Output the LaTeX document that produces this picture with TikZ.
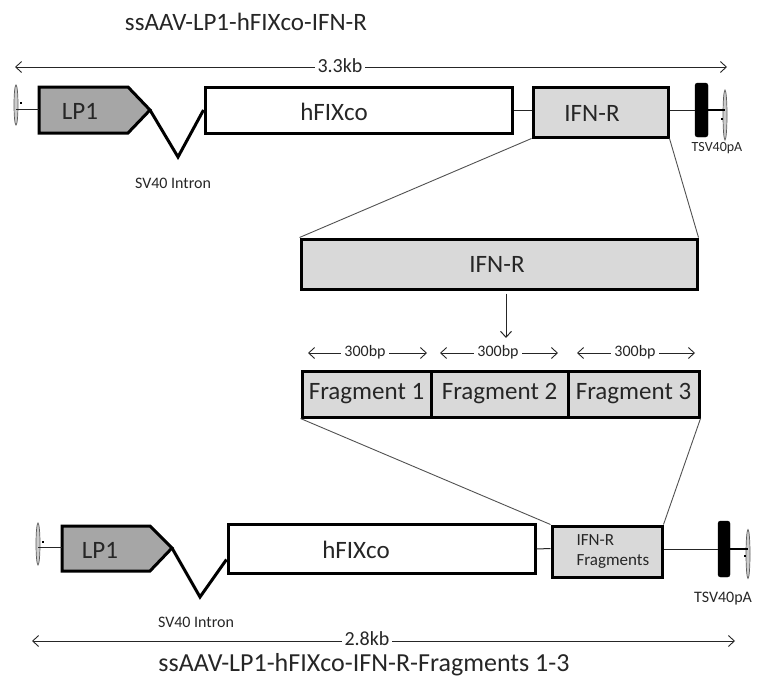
\documentclass[tikz,border=0pt]{standalone}
\usepackage{fontspec}
\setmainfont{Carlito}
\usetikzlibrary{arrows.meta,shapes.geometric}
\definecolor{promoter}{HTML}{A6A6A6}
\definecolor{insert}{HTML}{D9D9D9}
\definecolor{ink}{HTML}{262626}
\begin{document}
\begin{tikzpicture}[x=1pt,y=-1pt,
  every node/.style={text=ink},
  box/.style={draw=black, line width=3pt, inner sep=0pt},
  whitebox/.style={box, fill=white},
  greybox/.style={box, fill=insert},
  promo/.style={draw=black, line width=3pt, fill=promoter, line join=miter},
  intron/.style={draw=black, line width=3pt, line join=miter},
  link/.style={draw=ink, line width=1pt},
  zoomline/.style={draw=ink!80, line width=0.9pt},
  polya/.style={draw=black, fill=black, rounded corners=2.5pt, inner sep=0pt},
  itr/.style={ellipse, draw=ink!75, fill=gray!40, line width=0.7pt, inner sep=0pt, minimum width=4pt},
  itrdot/.style={fill=black, inner sep=0pt, minimum size=1.8pt},
  span/.style={draw=ink, line width=0.9pt, {Straight Barb[length=6pt,width=11pt]}-{Straight Barb[length=6pt,width=11pt]}},
  spanlabel/.style={fill=white, inner sep=3pt},
  big/.style={font=\fontsize{25}{30}\selectfont},
  small/.style={font=\fontsize{16}{19}\selectfont},
]
\useasboundingbox (0,0) rectangle (758,680);

% ---------- construct 1: ssAAV-LP1-hFIXco-IFN-R ----------
\node[big] (titleA) at (246,22) {ssAAV-LP1-hFIXco-IFN-R};
\coordinate (spanAl) at (15,67);
\coordinate (spanAr) at (727,67);
\draw[span] (spanAl) -- (spanAr);
\node[spanlabel, font=\fontsize{20}{24}\selectfont] (kbA) at (340,66) {3.3kb};

\node[itr, minimum height=40pt] (itrAl) at (16,105) {};
\node[itrdot] (dotAl) at (21,103) {};
\draw[promo] (39,87) -- (128,87) -- (150,110) -- (128,133) -- (39,133) -- cycle;
\coordinate (lpAtail) at (39,109);
\coordinate (lpAtip) at (150,110);
\node[big] (lpA) at (80,111) {LP1};
\draw[link] (itrAl.center |- lpAtail) -- (lpAtail);

\node[whitebox, minimum width=307pt, minimum height=46pt] (hfixA) at (358.5,110) {};
\node[big] (hfixAtxt) at (334,112) {hFIXco};
\coordinate (intronA) at (178,157);
\draw[intron] (lpAtip) -- (intronA) -- (hfixA.west);
\node[small] (svA) at (173,183) {SV40 Intron};

\node[greybox, minimum width=135pt, minimum height=50pt] (ifnA) at (600.5,112) {};
\node[big] (ifnAtxt) at (592,113) {IFN-R};
\draw[link] (hfixA.east) -- (hfixA.east -| ifnA.west);

\node[polya, minimum width=13pt, minimum height=54pt] (pA) at (701.5,110) {};
\draw[link] (ifnA.east |- pA.west) -- (pA.west);
\node[itr, minimum height=50pt] (itrAr) at (725,115) {};
\node[itrdot] (dotAr) at (722,119) {};
\draw[draw=black, line width=2pt] (pA.east) -- (pA.east -| itrAr.center);
\node[font=\fontsize{14}{17}\selectfont] (tsvA) at (717,148) {TSV40pA};

% ---------- the IFN-R insert split into three fragments ----------
\node[greybox, minimum width=396pt, minimum height=50pt] (ifnB) at (499,264) {};
\node[big] (ifnBtxt) at (497,264) {IFN-R};
\draw[zoomline] (ifnA.south west) -- (ifnB.north west);
\draw[zoomline] (ifnA.south east) -- (ifnB.north east);

\coordinate (down) at (506,338);
\draw[link, -{Straight Barb[length=6pt,width=11pt]}] (ifnB.south -| down) ++(0,3) -- (down);

\node[greybox, minimum width=129pt, minimum height=46pt] (frag1) at (366.5,394) {};
\node[greybox, minimum width=137pt, minimum height=46pt] (frag2) at (499.5,394) {};
\node[greybox, minimum width=131pt, minimum height=46pt] (frag3) at (633.5,394) {};
\node[big] at (frag1) {Fragment 1};
\node[big] at (frag2) {Fragment 2};
\node[big] at (frag3) {Fragment 3};

\foreach \l/\r/\m in {308/427/365, 440/558/498, 577/695/635}{
  \draw[span] (\l,353) -- (\r,353);
  \node[spanlabel, small] at (\m,352) {300bp};
}

% ---------- construct 2: ssAAV-LP1-hFIXco-IFN-R-Fragments 1-3 ----------
\node[itr, minimum height=42pt] (itrCl) at (38,544) {};
\node[itrdot] (dotCl) at (43,542) {};
\draw[promo] (62,526) -- (150,526) -- (172,548) -- (150,571) -- (62,571) -- cycle;
\coordinate (lpCtail) at (62,547);
\coordinate (lpCtip) at (172,548);
\node[big] (lpC) at (100,550) {LP1};
\draw[link] (itrCl.center |- lpCtail) -- (lpCtail);

\node[whitebox, minimum width=307pt, minimum height=49pt] (hfixC) at (381.5,548.5) {};
\node[big] (hfixCtxt) at (356,550) {hFIXco};
\coordinate (intronC) at (200,597);
\draw[intron] (lpCtip) -- (intronC) -- ([yshift=-11pt]hfixC.west);
\node[small] (svC) at (196,622) {SV40 Intron};

\node[greybox, minimum width=110pt, minimum height=51pt] (ifnC) at (607,551.5) {};
\node[font=\fontsize{17}{20}\selectfont, align=left, anchor=west] (ifnCtxt) at (573,552) {IFN-R\\Fragments};
\draw[link] (hfixC.east) ++(0,0.5) -- (hfixC.east -| ifnC.west);
\draw[zoomline] (frag1.south west) -- (ifnC.north west);
\draw[zoomline] (frag3.south east) -- (ifnC.north east);

\node[polya, minimum width=12pt, minimum height=56pt] (pC) at (724,549) {};
\draw[link] (ifnC.east |- pC.west) -- (pC.west);
\node[itr, minimum height=49pt] (itrCr) at (748,554) {};
\node[itrdot] (dotCr) at (745,556) {};
\draw[draw=black, line width=2pt] (pC.east) -- (pC.east -| itrCr.center);
\node[small] (tsvC) at (723,599) {TSV40pA};

\coordinate (spanCl) at (32,641);
\coordinate (spanCr) at (735,641);
\draw[span] (spanCl) -- (spanCr);
\node[spanlabel, font=\fontsize{20}{24}\selectfont] (kbC) at (367,639) {2.8kb};
\node[font=\fontsize{26}{30}\selectfont] (titleC) at (364,665) {ssAAV-LP1-hFIXco-IFN-R-Fragments 1-3};
\end{tikzpicture}
\end{document}
